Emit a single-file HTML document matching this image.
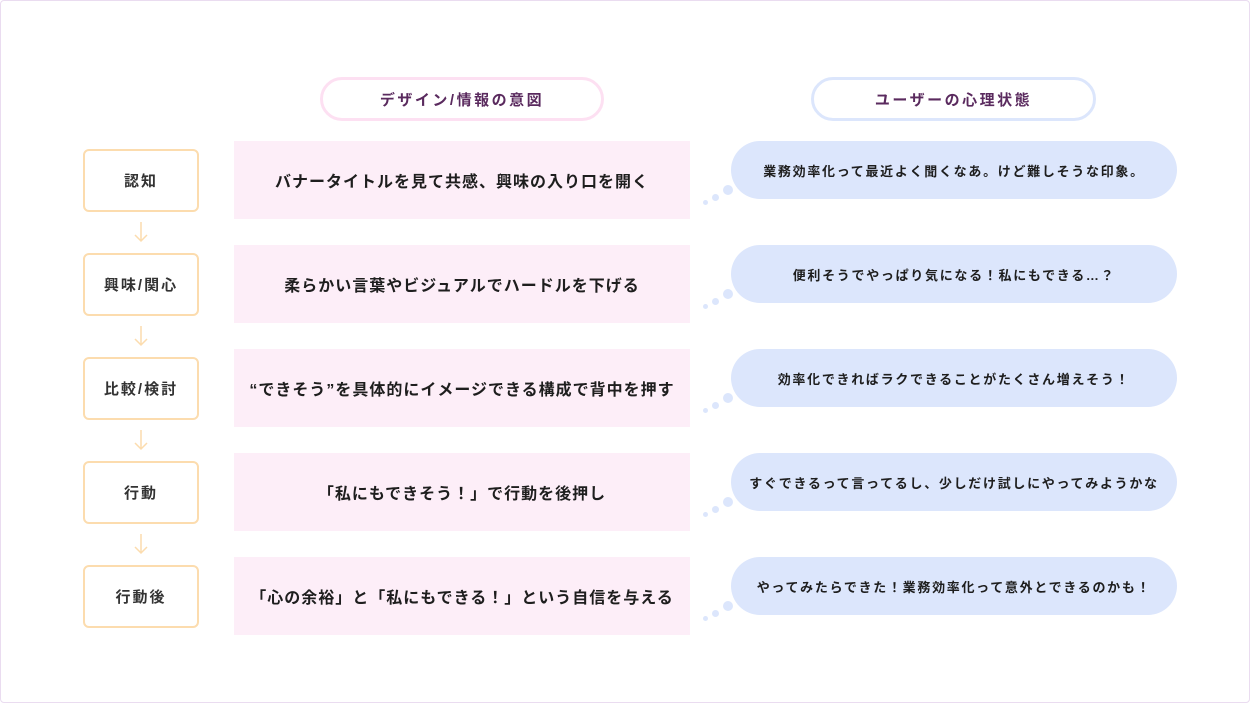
<!DOCTYPE html>
<html><head><meta charset="utf-8"><style>
body{margin:0;width:1250px;height:703px;background:#fff;font-family:"Liberation Sans","Noto Sans CJK JP",sans-serif;font-weight:bold;color:#1e1e1e;position:relative;overflow:hidden}
.frame{position:absolute;left:0;top:0;width:1248px;height:701px;border:1px solid #eadcf0;border-radius:4px}
.hdr{position:absolute;top:77px;height:38px;border-radius:24px;display:flex;align-items:center;justify-content:center;font-size:15px;letter-spacing:2.5px;color:#5a2a5e;background:#fff}
.st{position:absolute;left:83px;width:112px;height:59px;border:2px solid #fcdcae;border-radius:6px;display:flex;align-items:center;justify-content:center;font-size:15px;letter-spacing:2px;color:#333}
.pk{position:absolute;left:234px;width:456px;height:78px;background:#fdeef8;display:flex;align-items:center;justify-content:center;font-size:16px;letter-spacing:1px}
.bb{position:absolute;left:731px;width:446px;height:58px;background:#dce6fc;border-radius:29px;display:flex;align-items:center;justify-content:center;font-size:13px;letter-spacing:1.7px}
.d{position:absolute;background:#dce6fc;border-radius:50%}
.ar{position:absolute;left:133px;width:16px;height:22px}
</style></head><body>
<div class="frame"></div>
<div class="hdr" style="left:320px;width:278px;border:3px solid #fde0f2">デザイン/情報の意図</div>
<div class="hdr" style="left:811px;width:279px;border:3px solid #dce6fc">ユーザーの心理状態</div>

<div class="st" style="top:149px">認知</div>
<div class="st" style="top:253px">興味/関心</div>
<div class="st" style="top:357px">比較/検討</div>
<div class="st" style="top:461px">行動</div>
<div class="st" style="top:565px">行動後</div>

<svg class="ar" style="top:221px" viewBox="0 0 16 22"><path d="M8 1V20M2 14L8 20L14 14" stroke="#fcdcae" stroke-width="1.5" fill="none"/></svg>
<svg class="ar" style="top:325px" viewBox="0 0 16 22"><path d="M8 1V20M2 14L8 20L14 14" stroke="#fcdcae" stroke-width="1.5" fill="none"/></svg>
<svg class="ar" style="top:429px" viewBox="0 0 16 22"><path d="M8 1V20M2 14L8 20L14 14" stroke="#fcdcae" stroke-width="1.5" fill="none"/></svg>
<svg class="ar" style="top:533px" viewBox="0 0 16 22"><path d="M8 1V20M2 14L8 20L14 14" stroke="#fcdcae" stroke-width="1.5" fill="none"/></svg>

<div class="pk" style="top:141px">バナータイトルを見て共感、興味の入り口を開く</div>
<div class="pk" style="top:245px">柔らかい言葉やビジュアルでハードルを下げる</div>
<div class="pk" style="top:349px">“できそう”を具体的にイメージできる構成で背中を押す</div>
<div class="pk" style="top:453px">「私にもできそう！」で行動を後押し</div>
<div class="pk" style="top:557px">「心の余裕」と「私にもできる！」という自信を与える</div>

<div class="bb" style="top:141px">業務効率化って最近よく聞くなあ。けど難しそうな印象。</div>
<div class="bb" style="top:245px">便利そうでやっぱり気になる！私にもできる…？</div>
<div class="bb" style="top:349px">効率化できればラクできることがたくさん増えそう！</div>
<div class="bb" style="top:453px">すぐできるって言ってるし、少しだけ試しにやってみようかな</div>
<div class="bb" style="top:557px">やってみたらできた！業務効率化って意外とできるのかも！</div>

<div class="d" style="left:703px;top:200px;width:5px;height:5px"></div><div class="d" style="left:712px;top:194px;width:7px;height:7px"></div><div class="d" style="left:723px;top:185px;width:10px;height:10px"></div>
<div class="d" style="left:703px;top:304px;width:5px;height:5px"></div><div class="d" style="left:712px;top:298px;width:7px;height:7px"></div><div class="d" style="left:723px;top:289px;width:10px;height:10px"></div>
<div class="d" style="left:703px;top:408px;width:5px;height:5px"></div><div class="d" style="left:712px;top:402px;width:7px;height:7px"></div><div class="d" style="left:723px;top:393px;width:10px;height:10px"></div>
<div class="d" style="left:703px;top:512px;width:5px;height:5px"></div><div class="d" style="left:712px;top:506px;width:7px;height:7px"></div><div class="d" style="left:723px;top:497px;width:10px;height:10px"></div>
<div class="d" style="left:703px;top:616px;width:5px;height:5px"></div><div class="d" style="left:712px;top:610px;width:7px;height:7px"></div><div class="d" style="left:723px;top:601px;width:10px;height:10px"></div>
</body></html>
